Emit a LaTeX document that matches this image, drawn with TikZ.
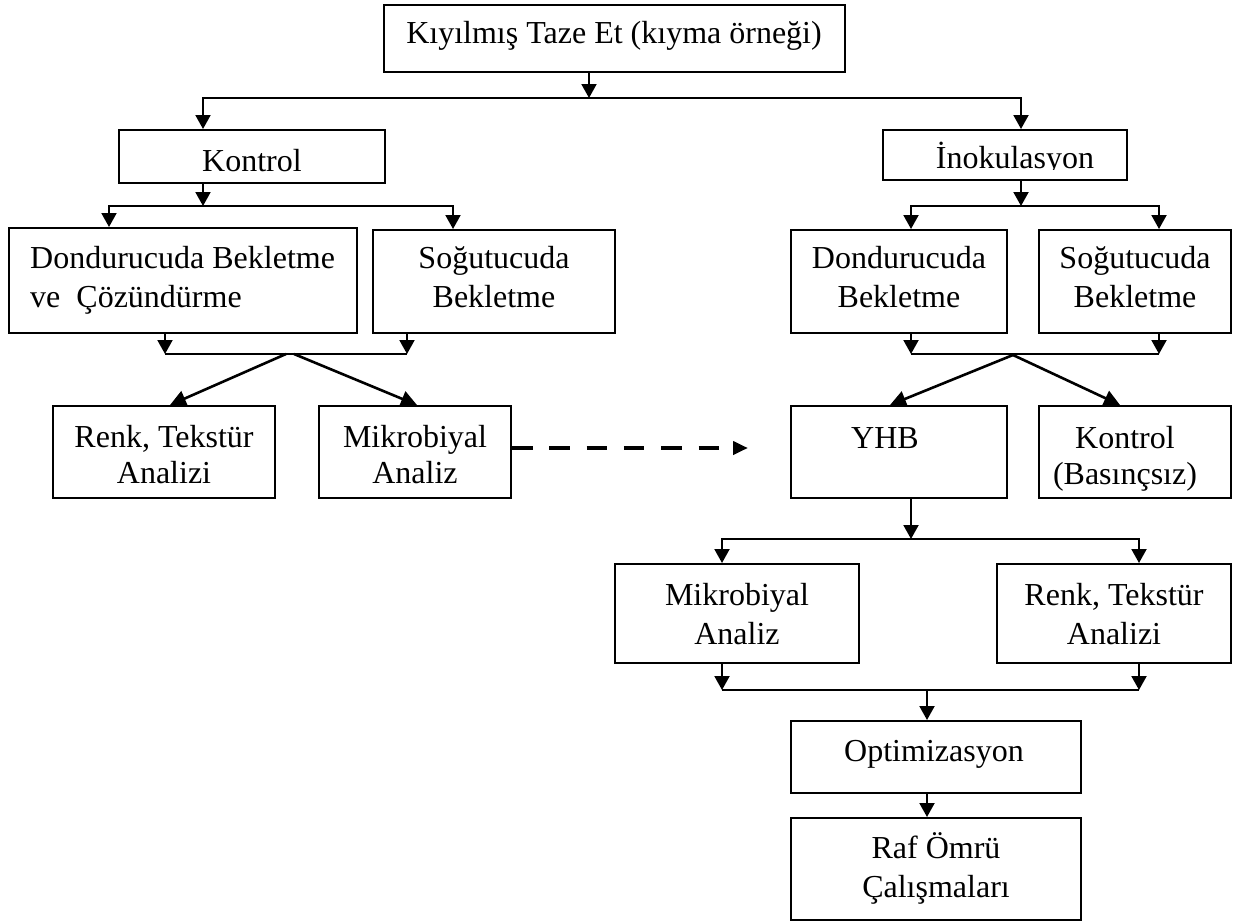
\documentclass[tikz,border=0pt]{standalone}
\usepackage{fontspec}
\setmainfont{Liberation Serif}
\usetikzlibrary{arrows.meta}
\newcommand{\fl}{\rule{0pt}{28pt}}
\begin{document}
\begin{tikzpicture}[x=1pt,y=-1pt,
  box/.style={draw, line width=2pt, inner sep=0pt},
  txt/.style={inner sep=0pt, align=center, anchor=north, font=\fontsize{32}{39}\selectfont},
  tight/.style={font=\fontsize{32}{36}\selectfont},
  conn/.style={line width=2pt},
  arr/.style={line width=2pt, -{Triangle[length=14pt,width=15pt]}},
  diag/.style={line width=2.6pt, -{Triangle[length=16pt,width=16pt]}},
  dasharr/.style={line width=4.5pt, dash pattern=on 20.5pt off 16.8pt, -{Triangle[length=15pt,width=13pt]}}]
\useasboundingbox (0,0) rectangle (1234,921);
% boxes
\node[box, minimum width=461pt, minimum height=67pt] (top) at (614.5,38.5) {};
\node[box, minimum width=266pt, minimum height=53pt] (kon) at (252,156.5) {};
\node[box, minimum width=244pt, minimum height=50pt] (ino) at (1005,155) {};
\node[box, minimum width=348pt, minimum height=105pt] (dl) at (183,280.5) {};
\node[box, minimum width=242pt, minimum height=103pt] (sl) at (494,281.5) {};
\node[box, minimum width=216pt, minimum height=103pt] (dr) at (899,281.5) {};
\node[box, minimum width=192pt, minimum height=103pt] (sr) at (1135,281.5) {};
\node[box, minimum width=222pt, minimum height=92pt] (rl) at (164,452) {};
\node[box, minimum width=192pt, minimum height=92pt] (ml) at (415,452) {};
\node[box, minimum width=216pt, minimum height=92pt] (yhb) at (899,452) {};
\node[box, minimum width=192pt, minimum height=92pt] (kb) at (1135,452) {};
\node[box, minimum width=244pt, minimum height=99pt] (mr) at (737,613.5) {};
\node[box, minimum width=234pt, minimum height=99pt] (rr) at (1114,613.5) {};
\node[box, minimum width=290pt, minimum height=72pt] (opt) at (936,757) {};
\node[box, minimum width=290pt, minimum height=102pt] (raf) at (936,869) {};
% texts
\node[txt] (topt) at (614,15) {\fl Kıyılmış Taze Et (kıyma örneği)};
\node[txt] (kont) at (252,143) {\fl Kontrol};
\begin{scope}
  \clip (883,130) rectangle (1127,169.5);
  \node[txt, anchor=base] (inot) at (1015,168) {İnokulasyon};
\end{scope}
\node[txt, align=left, anchor=north west] (dlt) at (30,240) {\fl Dondurucuda Bekletme\\ve\ \ Çözündürme};
\node[txt] (slt) at (494,240) {\fl Soğutucuda\\Bekletme};
\node[txt] (drt) at (899,240) {\fl Dondurucuda\\Bekletme};
\node[txt] (srt) at (1135,240) {\fl Soğutucuda\\Bekletme};
\node[txt, tight] (rlt) at (164,419.5) {\fl Renk, Tekstür\\Analizi};
\node[txt, tight] (mlt) at (415,419.5) {\fl Mikrobiyal\\Analiz};
\node[txt] (yhbt) at (885,420) {\fl YHB};
\node[txt, tight] (kbt) at (1125,420) {\fl Kontrol\\(Basınçsız)};
\node[txt] (mrt) at (737,577) {\fl Mikrobiyal\\Analiz};
\node[txt] (rrt) at (1114,577) {\fl Renk, Tekstür\\Analizi};
\node[txt] (optt) at (934,733) {\fl Optimizasyon};
\node[txt] (raft) at (936,830) {\fl Raf Ömrü\\Çalışmaları};
% junction coordinates
\coordinate (j0) at (589,98);
\coordinate (j0L) at (203,98);
\coordinate (j0R) at (1021,98);
\coordinate (j1) at (203,206);
\coordinate (j1L) at (109,206);
\coordinate (j1R) at (453,206);
\coordinate (j2) at (1021,206);
\coordinate (j2L) at (911,206);
\coordinate (j2R) at (1159,206);
\coordinate (j3L) at (165,354);
\coordinate (j3R) at (407,354);
\coordinate (d1s) at (286,354);
\coordinate (d2s) at (294,354);
\coordinate (d1e) at (170,0);
\coordinate (d2e) at (417,0);
\coordinate (j4L) at (911,354);
\coordinate (j4R) at (1159,354);
\coordinate (d3s) at (1013,355);
\coordinate (d3e) at (890,0);
\coordinate (d4e) at (1120,0);
\coordinate (dend) at (748,448);
\coordinate (j5) at (911,539);
\coordinate (j5L) at (722,539);
\coordinate (j5R) at (1139,539);
\coordinate (j6L) at (722,690);
\coordinate (j6R) at (1139,690);
\coordinate (j6) at (927,690);
% top split
\draw[arr] (top.south -| j0) -- (j0);
\draw[arr] (j0) -- (j0L) -- (kon.north -| j0L);
\draw[arr] (j0) -- (j0R) -- (ino.north -| j0R);
% Kontrol split
\draw[arr] (kon.south -| j1) -- (j1);
\draw[arr] (j1) -- (j1L) -- (dl.north -| j1L);
\draw[arr] (j1) -- (j1R) -- (sl.north -| j1R);
% Inokulasyon split
\draw[arr] (ino.south -| j2) -- (j2);
\draw[arr] (j2) -- (j2L) -- (dr.north -| j2L);
\draw[arr] (j2) -- (j2R) -- (sr.north -| j2R);
% left merge
\draw[arr] (dl.south -| j3L) -- (j3L);
\draw[arr] (sl.south -| j3R) -- (j3R);
\draw[conn] (j3L) -- (j3R);
\draw[diag] (d1s) -- (rl.north -| d1e);
\draw[diag] (d2s) -- (ml.north -| d2e);
% right merge
\draw[arr] (dr.south -| j4L) -- (j4L);
\draw[arr] (sr.south -| j4R) -- (j4R);
\draw[conn] (j4L) -- (j4R);
\draw[diag] (d3s) -- (yhb.north -| d3e);
\draw[diag] (d3s) -- (kb.north -| d4e);
% dashed
\draw[dasharr] (ml.east |- dend) -- (dend);
% YHB split
\draw[arr] (yhb.south -| j5) -- (j5);
\draw[arr] (j5) -- (j5L) -- (mr.north -| j5L);
\draw[arr] (j5) -- (j5R) -- (rr.north -| j5R);
% merge to Optimizasyon
\draw[arr] (mr.south -| j6L) -- (j6L);
\draw[arr] (rr.south -| j6R) -- (j6R);
\draw[conn] (j6L) -- (j6R);
\draw[arr] (j6) -- (opt.north -| j6);
\draw[arr] (opt.south -| j6) -- (raf.north -| j6);
\end{tikzpicture}
\end{document}
